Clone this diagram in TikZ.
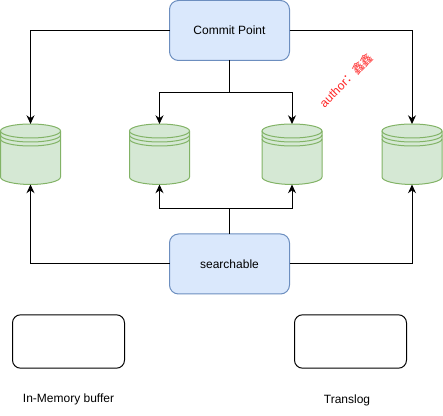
\documentclass[tikz,border=0pt]{standalone}
\usepackage{fontspec}
\setmainfont{Liberation Sans}
\newfontfamily\cjkfont{Noto Sans CJK SC}
\definecolor{boxblue}{HTML}{DAE8FC}
\definecolor{lineblue}{HTML}{6C8EBF}
\definecolor{diskgreen}{HTML}{D5E8D4}
\definecolor{linegreen}{HTML}{82B366}
\usetikzlibrary{arrows.meta, positioning, calc}

\begin{document}
\begin{tikzpicture}[
    x=0.75pt, y=-0.75pt,
    line width=0.75pt,
    node distance=40pt,
    block/.style={rectangle, draw=lineblue, fill=boxblue, rounded corners=6.75pt, minimum width=90pt, minimum height=45pt, outer sep=0pt, align=center, font=\fontsize{9}{11}\selectfont},
    buffer/.style={rectangle, draw=black, rounded corners=6pt, minimum width=84pt, minimum height=40pt, outer sep=0pt},
    disk/.style={rectangle, minimum width=45pt, minimum height=45.4pt, inner sep=0pt, outer sep=0pt},
    label/.style={font=\fontsize{9}{11}\selectfont},
    arrow/.style={-{Stealth[length=6.5pt,width=6pt]}, black}
]
\useasboundingbox (0,0) rectangle (443,416);

% Boxes
\node[block] (commit) at (229.5,30.5) {Commit Point};
\node[block] (search) at (229.5,264) {searchable};
\node[buffer] (memory) at (68.5,341.5) {};
\node[buffer] (translog) at (350.5,341.5) {};

% Disks
\foreach \name/\px in {diskA/30.5, diskB/159.5, diskC/292, diskD/412}{
    \node[disk] (\name) at (\px,154.25) {};
    \begin{scope}[shift={(\name.center)}, draw=linegreen]
        \filldraw[fill=diskgreen] (-30,-23.25) -- (-30,22.75) arc[start angle=180, end angle=360, x radius=22.5pt, y radius=5.6pt] -- (30,-23.25);
        \filldraw[fill=diskgreen] (0,-23.25) ellipse[x radius=22.5pt, y radius=5.25pt];
        \draw (-30,-19.25) arc[start angle=180, end angle=360, x radius=22.5pt, y radius=5.25pt];
        \draw (-30,-15.25) arc[start angle=180, end angle=360, x radius=22.5pt, y radius=5.25pt];
    \end{scope}
}

% Arrows
\coordinate (upper) at ($(commit.south)+(0,32.5)$);
\coordinate (lower) at ($(search.north)+(0,-25)$);
\draw[arrow] (commit.west) -| (diskA.north);
\draw[arrow] (commit.east) -| (diskD.north);
\draw (commit.south) -- (upper);
\draw[arrow] (upper) -| (diskB.north);
\draw[arrow] (upper) -| (diskC.north);
\draw (search.north) -- (lower);
\draw[arrow] (lower) -| (diskB.south);
\draw[arrow] (lower) -| (diskC.south);
\draw[arrow] (search.west) -| (diskA.south);
\draw[arrow] (search.east) -| (diskD.south);

% Labels
\node[label] (memorylabel) at (68.5,399) {In-Memory buffer};
\node[label] (transloglabel) at (347,400) {Translog};
\node[label, red!85, rotate=45] (author) at (346,80) {author{\cjkfont：鑫鑫}};

\end{tikzpicture}
\end{document}
